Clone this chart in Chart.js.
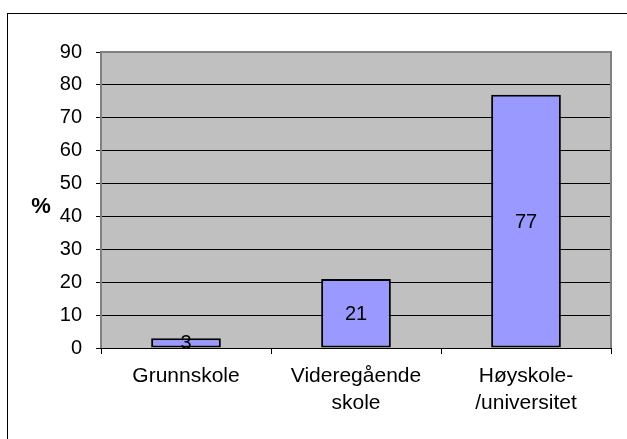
<!DOCTYPE html>
<html>
<head>
<meta charset="utf-8">
<script src="https://cdn.jsdelivr.net/npm/chart.js@4"></script>
<style>
  html, body { margin: 0; padding: 0; background: #fff; }
  #wrap { width: 627px; height: 439px; }
</style>
</head>
<body>
<div id="wrap"><canvas id="utdanning" width="627" height="439"></canvas></div>
<script>
// verdier lest av figuren
const kategorier = ["Grunnskole", ["Videregående", "skole"], ["Høyskole-", "/universitet"]];
const prosent = [3, 21, 77];
const yTicks = [0, 10, 20, 30, 40, 50, 60, 70, 80, 90];
const yTittel = "%";

const FONT = "'Liberation Sans', Arial, sans-serif";

// grå bakgrunn, ramme og etiketter
const tegnPlugin = {
  id: "tegnPlugin",
  beforeDraw(chart) {
    const { ctx, chartArea: a } = chart;
    ctx.save();
    ctx.strokeStyle = "#000";
    ctx.lineWidth = 1;
    ctx.strokeRect(7.5, 13.5, 700, 500);
    ctx.fillStyle = "#C0C0C0";
    ctx.fillRect(a.left, a.top, a.right - a.left, a.bottom - a.top);
    ctx.restore();
  },
  beforeDatasetsDraw(chart) {
    const { ctx, chartArea: a } = chart;
    ctx.save();
    ctx.strokeStyle = "#808080";
    ctx.lineWidth = 2;
    ctx.beginPath();
    ctx.moveTo(a.left, a.bottom);
    ctx.lineTo(a.left, a.top);
    ctx.lineTo(a.right, a.top);
    ctx.lineTo(a.right, a.bottom);
    ctx.stroke();
    ctx.restore();
  },
  afterDatasetsDraw(chart) {
    const { ctx } = chart;
    const meta = chart.getDatasetMeta(0);
    ctx.save();
    ctx.fillStyle = "#000";
    ctx.font = "20px " + FONT;
    ctx.textAlign = "center";
    ctx.textBaseline = "middle";
    meta.data.forEach((bar, i) => {
      ctx.fillText(String(prosent[i]), bar.x, (bar.y + bar.base) / 2 + 1);
    });
    // y-aksetittel, ikke rotert
    ctx.font = "bold 22px " + FONT;
    ctx.fillText(yTittel, 41, 207);
    ctx.restore();
  }
};

new Chart(document.getElementById("utdanning"), {
  type: "bar",
  data: {
    labels: kategorier,
    datasets: [{
      data: prosent,
      backgroundColor: "#9999FF",
      borderColor: "#000",
      borderWidth: 2,
      borderSkipped: false,
      barPercentage: 0.41,
      categoryPercentage: 1
    }]
  },
  options: {
    responsive: false,
    animation: false,
    layout: { padding: { top: 52, right: 16, left: 0, bottom: 0 } },
    plugins: { legend: { display: false }, tooltip: { enabled: false } },
    scales: {
      x: {
        grid: { drawOnChartArea: false, drawTicks: true, tickLength: 6, tickColor: "#000", offset: true },
        border: { display: false },
        ticks: { color: "#000", font: { family: FONT, size: 21, lineHeight: 1.28 }, padding: 9, maxRotation: 0 },
        afterFit(scale) { scale.height = 91; }
      },
      y: {
        min: 0,
        max: 90,
        afterBuildTicks(scale) { scale.ticks = yTicks.map(v => ({ value: v })); },
        grid: {
          color: ctx => (ctx.tick && ctx.tick.value === 90 ? "#808080" : "#000"),
          tickColor: "#000",
          tickLength: 5,
          lineWidth: 1
        },
        border: { display: false },
        ticks: { color: "#000", font: { family: FONT, size: 20 }, padding: 14 },
        afterFit(scale) { scale.width = 101; }
      }
    }
  },
  plugins: [tegnPlugin]
});
</script>
</body>
</html>
